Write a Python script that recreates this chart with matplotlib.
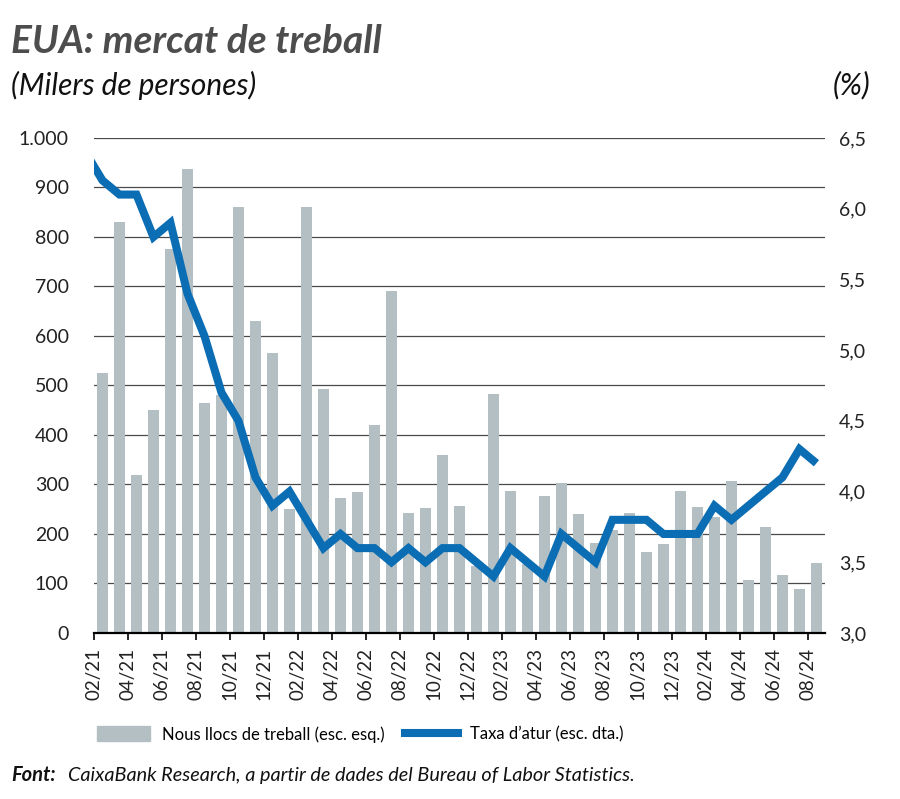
import matplotlib
matplotlib.use("Agg")
import matplotlib.pyplot as plt
import numpy as np
import pandas as pd

# months: unemployment starts one month earlier (Jan-21), clipped at the left edge
line_months = pd.period_range("2021-01", "2024-08", freq="M")
bar_months = line_months[1:]

payrolls = [525, 830, 320, 450, 775, 937, 465, 480, 860, 630, 565, 250,
            860, 492, 272, 285, 420, 690, 242, 253, 360, 256, 135,
            482, 287, 140, 277, 302, 240, 182, 208, 243, 163, 180, 287,
            254, 234, 307, 108, 214, 118, 89, 142]
unemployment = [6.4, 6.2, 6.1, 6.1, 5.8, 5.9, 5.4, 5.1, 4.7, 4.5, 4.1, 3.9,
                4.0, 3.8, 3.6, 3.7, 3.6, 3.6, 3.5, 3.6, 3.5, 3.6, 3.6, 3.5,
                3.4, 3.6, 3.5, 3.4, 3.7, 3.6, 3.5, 3.8, 3.8, 3.8, 3.7, 3.7,
                3.7, 3.9, 3.8, 3.9, 4.0, 4.1, 4.3, 4.2]

left_ticks = [0, 100, 200, 300, 400, 500, 600, 700, 800, 900, 1000]
right_ticks = [3.0, 3.5, 4.0, 4.5, 5.0, 5.5, 6.0, 6.5]

BAR_COLOR = "#b3bfc3"
LINE_COLOR = "#0b6db3"
GRID_COLOR = "#4a4a4a"
FONT = "Lato"

plt.rcParams["font.family"] = [FONT, "DejaVu Sans"]

fig = plt.figure(figsize=(9, 7.99), dpi=100)
ax = fig.add_axes([0.1044, 0.2078, 0.8122, 0.6195])
ax2 = ax.twinx()

xb = np.arange(len(bar_months))
xl = np.arange(len(line_months)) - 1

ax.bar(xb, payrolls, width=0.65, color=BAR_COLOR, zorder=2)
ax2.plot(xl, unemployment, color=LINE_COLOR, linewidth=5.8,
         solid_joinstyle="miter", solid_capstyle="butt", zorder=3)

ax.set_xlim(-0.5, len(bar_months) - 0.5)
ax.set_ylim(0, 1000)
ax2.set_ylim(3.0, 6.5)

for t in left_ticks[1:]:
    ax.axhline(t, color=GRID_COLOR, linewidth=0.9, zorder=1)

ax.set_yticks(left_ticks)
ax.set_yticklabels([f"{t:,}".replace(",", ".") for t in left_ticks])
ax2.set_yticks(right_ticks)
ax2.set_yticklabels([f"{t:.1f}".replace(".", ",") for t in right_ticks])

tick_pos = np.arange(0, len(bar_months), 2) - 0.5
ax.set_xticks(tick_pos)
ax.set_xticklabels([m.strftime("%m/%y") for m in bar_months[::2]],
                   rotation=90, fontsize=13.5, color="#222222")
ax.tick_params(axis="x", length=5, width=1.2, color="black", pad=6, direction="out")
ax.tick_params(axis="y", length=0, labelsize=14, labelcolor="#222222", pad=18)
ax2.tick_params(axis="y", length=0, labelsize=14, labelcolor="#222222", pad=10)

for a in (ax, ax2):
    for s in ("top", "left", "right"):
        a.spines[s].set_visible(False)
ax2.spines["bottom"].set_visible(False)
ax.spines["bottom"].set_linewidth(1.6)
ax.spines["bottom"].set_zorder(4)
ax.set_zorder(ax2.get_zorder() - 1)
ax2.patch.set_visible(False)

# titles
fig.text(0.012, 0.948, "EUA: mercat de treball", fontsize=28, fontweight="bold",
         fontstyle="italic", color="#4d4d4d", va="center")
fig.text(0.012, 0.893, "(Milers de persones)", fontsize=21.5, fontstyle="italic",
         color="#111111", va="center")
fig.text(0.967, 0.893, "(%)", fontsize=21.5, fontstyle="italic", color="#111111",
         va="center", ha="right")

# legend
handles = [plt.Rectangle((0, 0), 1, 1, color=BAR_COLOR),
           plt.Line2D([], [], color=LINE_COLOR, linewidth=5.8)]
fig.legend(handles, ["Nous llocs de treball (esc. esq.)", "Taxa d\u2019atur (esc. dta.)"],
           loc="center", bbox_to_anchor=(0.4, 0.081), ncol=2, frameon=False,
           fontsize=12, handlelength=3.2, handleheight=1.0, columnspacing=1.2,
           handletextpad=0.7)

fig.text(0.013, 0.03, "Font:", fontsize=14.5, fontweight="bold", fontstyle="italic",
         color="#111111", va="center")
fig.text(0.075, 0.03, "CaixaBank Research, a partir de dades del Bureau of Labor Statistics.",
         fontsize=14.3, fontstyle="italic", color="#111111", va="center")

fig.savefig("out.png", dpi=100)
